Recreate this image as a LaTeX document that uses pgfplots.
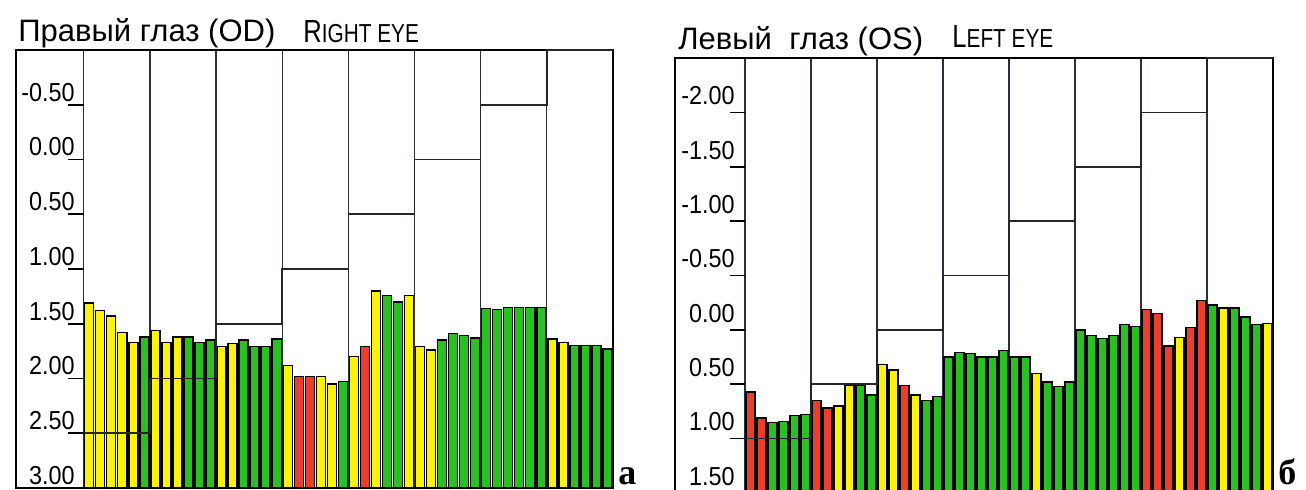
\documentclass[border=0pt]{standalone}
\usepackage{pgfplots}
\pgfplotsset{compat=1.18}
\usepackage{pgfplotstable}
\usepackage{fontspec}
\usepackage{graphicx}
\setmainfont{Liberation Sans}
\newfontfamily\serifface{Liberation Serif}

\definecolor{barY}{RGB}{255,244,0}
\definecolor{barG}{RGB}{36,195,30}
\definecolor{barR}{RGB}{240,60,40}
\definecolor{gridc}{RGB}{40,48,70}
\newcommand{\tl}[1]{\scalebox{0.9}[1]{#1}}

\pgfplotsset{
  eyebar/.style={ybar, bar width=0.82, bar shift=0pt, draw=black, line width=0.7pt},
  eyeaxis/.style={
    scale only axis, clip=false,
    xmax=48,
    xtick={0,6,...,42}, xticklabels={},
    xmajorgrids, grid style={gridc, line width=0.65pt},
    major tick length=0pt,
    axis line style={line width=1pt, black},
    unbounded coords=discard,
    yticklabel style={anchor=south east, inner sep=0pt, font=\fontsize{13}{13}\selectfont},
  },
}

% Right eye (OD): bar centre, value of yellow / green / red bar
\pgfplotstableread{
x yel grn red
0.5 1.31 nan nan
1.5 1.38 nan nan
2.5 1.43 nan nan
3.5 1.58 nan nan
4.5 1.67 nan nan
5.5 nan 1.62 nan
6.5 1.56 nan nan
7.5 1.67 nan nan
8.5 1.62 nan nan
9.5 nan 1.62 nan
10.5 nan 1.67 nan
11.5 nan 1.65 nan
12.5 1.71 nan nan
13.5 1.68 nan nan
14.5 nan 1.65 nan
15.5 nan 1.71 nan
16.5 nan 1.71 nan
17.5 nan 1.64 nan
18.5 1.88 nan nan
19.5 nan nan 1.98
20.5 nan nan 1.98
21.5 1.98 nan nan
22.5 2.05 nan nan
23.5 nan 2.03 nan
24.5 1.80 nan nan
25.5 nan nan 1.71
26.5 1.20 nan nan
27.5 nan 1.24 nan
28.5 nan 1.30 nan
29.5 1.24 nan nan
30.5 1.71 nan nan
31.5 1.74 nan nan
32.5 nan 1.65 nan
33.5 nan 1.59 nan
34.5 nan 1.61 nan
35.5 nan 1.63 nan
36.5 nan 1.36 nan
37.5 nan 1.37 nan
38.5 nan 1.35 nan
39.5 nan 1.35 nan
40.5 nan 1.35 nan
41.5 nan 1.35 nan
42.5 1.64 nan nan
43.5 1.67 nan nan
44.5 nan 1.70 nan
45.5 nan 1.70 nan
46.5 nan 1.70 nan
47.5 nan 1.73 nan
}\tabOD

% Left eye (OS)
\pgfplotstableread{
x yel grn red
0.5 nan nan 0.57
1.5 nan nan 0.81
2.5 nan 0.85 nan
3.5 nan 0.84 nan
4.5 nan 0.79 nan
5.5 nan 0.78 nan
6.5 nan nan 0.65
7.5 nan nan 0.72
8.5 0.70 nan nan
9.5 0.51 nan nan
10.5 nan 0.51 nan
11.5 nan 0.60 nan
12.5 0.32 nan nan
13.5 0.37 nan nan
14.5 nan nan 0.51
15.5 0.60 nan nan
16.5 nan 0.65 nan
17.5 nan 0.61 nan
18.5 nan 0.25 nan
19.5 nan 0.21 nan
20.5 nan 0.22 nan
21.5 nan 0.25 nan
22.5 nan 0.25 nan
23.5 nan 0.19 nan
24.5 nan 0.25 nan
25.5 nan 0.25 nan
26.5 0.40 nan nan
27.5 nan 0.48 nan
28.5 nan 0.52 nan
29.5 nan 0.48 nan
30.5 nan 0.00 nan
31.5 nan 0.05 nan
32.5 nan 0.08 nan
33.5 nan 0.05 nan
34.5 nan -0.05 nan
35.5 nan -0.03 nan
36.5 nan nan -0.19
37.5 nan nan -0.15
38.5 nan nan 0.15
39.5 0.07 nan nan
40.5 nan nan -0.02
41.5 nan nan -0.27
42.5 nan -0.23 nan
43.5 -0.20 nan nan
44.5 nan -0.20 nan
45.5 nan -0.12 nan
46.5 nan -0.05 nan
47.5 -0.06 nan nan
}\tabOS

% target levels of the eight columns
\pgfplotstableread{
x t
0 2.5
6 2.0
12 1.5
18 1.0
24 0.5
30 0.0
36 -0.5
42 -1.0
48 -1.0
}\tgtOD
\pgfplotstableread{
x t
0 1.0
6 0.5
12 0.0
18 -0.5
24 -1.0
30 -1.5
36 -2.0
42 -2.5
48 -2.5
}\tgtOS

\begin{document}
\begin{tikzpicture}
\useasboundingbox (0,0) rectangle (653pt,245pt);

\begin{axis}[eyeaxis,
  at={(8pt,1pt)}, anchor=south west,
  width=298.5pt, height=219pt,
  xmin=-6.14,
  y coord trafo/.code={\pgfmathparse{3-#1}},
  y coord inv trafo/.code={\pgfmathparse{3-#1}},
  ymin=3, ymax=-1,
  ytick={-0.5,0,0.5,1,1.5,2,2.5,3},
  yticklabels={\tl{-0.50},\tl{0.00},\tl{0.50},\tl{1.00},\tl{1.50},\tl{2.00},\tl{2.50},\tl{3.00}},
  yticklabel style={xshift=29.5pt, yshift=1.5pt},
]
\addplot[eyebar, fill=barY] table[x=x,y=yel] {\tabOD};
\addplot[eyebar, fill=barG] table[x=x,y=grn] {\tabOD};
\addplot[eyebar, fill=barR] table[x=x,y=red] {\tabOD};
\addplot[const plot, black!85, line width=0.8pt, mark=none] table[x=x,y=t] {\tgtOD};
\pgfplotsinvokeforeach{-0.5,0,0.5,1,1.5,2,2.5,3}{
  \draw[line width=0.8pt] (axis cs:-1.45,#1) -- (axis cs:0,#1);
}
\end{axis}

\begin{axis}[eyeaxis,
  at={(337.5pt,-1.5pt)}, anchor=south west,
  width=299pt, height=217.5pt,
  xmin=-6.36,
  y coord trafo/.code={\pgfmathparse{1.5-#1}},
  y coord inv trafo/.code={\pgfmathparse{1.5-#1}},
  ymin=1.5, ymax=-2.5,
  ytick={-2,-1.5,-1,-0.5,0,0.5,1,1.5},
  yticklabels={\tl{-2.00},\tl{-1.50},\tl{-1.00},\tl{-0.50},\tl{0.00},\tl{0.50},\tl{1.00},\tl{1.50}},
  yticklabel style={xshift=30pt, yshift=3.5pt},
]
\addplot[eyebar, fill=barY] table[x=x,y=yel] {\tabOS};
\addplot[eyebar, fill=barG] table[x=x,y=grn] {\tabOS};
\addplot[eyebar, fill=barR] table[x=x,y=red] {\tabOS};
\addplot[const plot, black!85, line width=0.8pt, mark=none] table[x=x,y=t] {\tgtOS};
\pgfplotsinvokeforeach{-2,-1.5,-1,-0.5,0,0.5,1,1.5}{
  \draw[line width=0.8pt] (axis cs:-1.36,#1) -- (axis cs:0,#1);
}
\end{axis}

\node[anchor=base west, inner sep=0pt, font=\fontsize{15.5}{15.5}\selectfont] at (9pt,224.2pt) {Правый глаз (OD)};
\node[anchor=base west, inner sep=0pt] at (151.5pt,223.5pt) {\scalebox{0.8}[1]{{\fontsize{16}{16}\selectfont R}{\fontsize{13}{13}\selectfont IGHT EYE}}};
\node[anchor=base west, inner sep=0pt, font=\fontsize{15.5}{15.5}\selectfont] at (339pt,220pt) {Левый\ \ глаз (OS)};
\node[anchor=base west, inner sep=0pt] at (476pt,221pt) {\scalebox{0.8}[1]{{\fontsize{16}{16}\selectfont L}{\fontsize{13}{13}\selectfont EFT EYE}}};
\node[anchor=base west, inner sep=0pt, font=\serifface\bfseries\fontsize{18}{18}\selectfont] at (309pt,2.5pt) {а};
\node[anchor=base west, inner sep=0pt, font=\serifface\bfseries\fontsize{18}{18}\selectfont] at (639pt,2.5pt) {б};
\end{tikzpicture}
\end{document}
